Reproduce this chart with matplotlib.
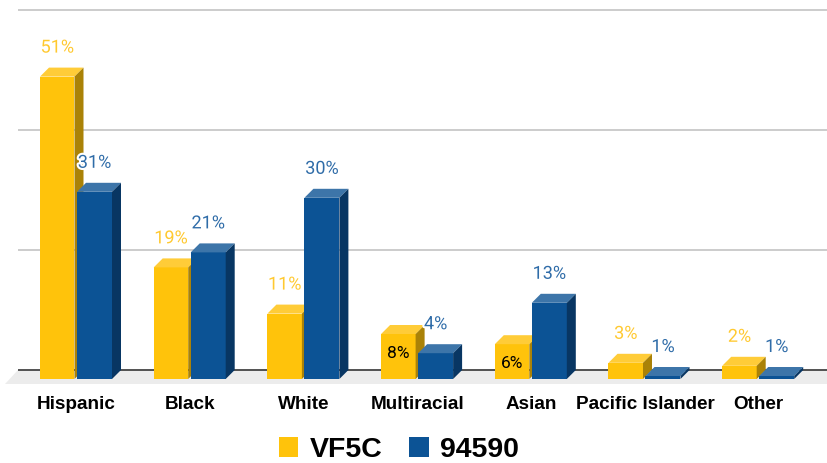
import matplotlib
matplotlib.use('Agg')
import matplotlib.pyplot as plt
import matplotlib.patheffects as pe
from matplotlib.patches import Polygon, Patch

# values (bar heights in percent)
categories = ['Hispanic', 'Black', 'White', 'Multiracial', 'Asian', 'Pacific Islander', 'Other']
vf5c = [50.4, 18.6, 10.9, 7.5, 5.8, 2.7, 2.2]
zip_94590 = [31.2, 21.1, 30.2, 4.3, 12.7, 0.5, 0.5]
vf5c_labels = ['51%', '19%', '11%', '8%', '6%', '3%', '2%']
zip_labels = ['31%', '21%', '30%', '4%', '13%', '1%', '1%']
grid_values = [20, 40, 60]

YELLOW = ('#FFC30B', '#FFCC38', '#AA8207')
BLUE = ('#0C5395', '#3D75A9', '#083663')

W, H = 828, 463
PX_X = 113.7  # pixels per category
PX_Y = 6.0    # pixels per percent
X0, Y0 = 76, 379  # pixel position of category 0 and of value 0

fig = plt.figure(figsize=(W / 100, H / 100), dpi=100)
ax = fig.add_axes([0, 0, 1, 1])
ax.set_xlim(-X0 / PX_X, (W - X0) / PX_X)
ax.set_ylim((Y0 - H) / PX_Y, Y0 / PX_Y)
ax.axis('off')

# depth of the fake 3d look, in data units
dx = 9 / PX_X
dy = 9 / PX_Y
w1 = 34.5 / PX_X
w2 = 35 / PX_X
xmin = (18 - X0) / PX_X
xmax = (W - X0) / PX_X

# floor and grid sit at the back of the bars
ax.add_patch(Polygon([(xmin, dy), (xmax, dy), (xmax, -5 / PX_Y), ((5 - X0) / PX_X, -5 / PX_Y)],
                     facecolor='#ECECEC', edgecolor='none', zorder=1))
for g in grid_values:
    ax.plot([xmin, xmax], [g + dy * 0.95] * 2, color='#CCCCCC', lw=1.4, zorder=1, solid_capstyle='butt')
ax.plot([xmin, xmax], [dy * 0.95] * 2, color='#444444', lw=1.3, zorder=2, solid_capstyle='butt')


def draw_bar(x, v, w, colors, z):
    front, top, side = colors
    ax.add_patch(Polygon([(x, 0), (x + w, 0), (x + w, v), (x, v)], facecolor=front, edgecolor='none', zorder=z))
    ax.add_patch(Polygon([(x, v), (x + w, v), (x + w + dx, v + dy), (x + dx, v + dy)],
                         facecolor=top, edgecolor='none', zorder=z))
    ax.add_patch(Polygon([(x + w, 0), (x + w + dx, dy), (x + w + dx, v + dy), (x + w, v)],
                         facecolor=side, edgecolor='none', zorder=z))


halo = [pe.withStroke(linewidth=3, foreground='white')]
for i, name in enumerate(categories):
    x1 = i - 36 / PX_X
    x2 = i + 1 / PX_X
    draw_bar(x1, vf5c[i], w1, YELLOW, 3)
    draw_bar(x2, zip_94590[i], w2, BLUE, 4)

    # the two small yellow bars with room keep the label inside
    if name in ('Multiracial', 'Asian'):
        ax.text(x1 + w1 / 2, vf5c[i] - 19 / PX_Y, vf5c_labels[i], ha='center', va='center',
                fontsize=12.5, family='Roboto', color='black', zorder=6)
    else:
        ax.text(x1 + w1 / 2, vf5c[i] + 29 / PX_Y, vf5c_labels[i], ha='center', va='center',
                fontsize=13, family='Roboto', color='#FFC930', zorder=6, path_effects=halo)
    ax.text(x2 + w2 / 2, zip_94590[i] + 29 / PX_Y, zip_labels[i], ha='center', va='center',
            fontsize=13, family='Roboto', color='#2F6CA8', zorder=6, path_effects=halo)

    ax.text(i + 0.5 / PX_X, -25.5 / PX_Y, name, ha='center', va='center', fontsize=13.6,
            family='Liberation Sans', fontweight='bold', color='black')

handles = [Patch(facecolor=YELLOW[0], label='VF5C'), Patch(facecolor=BLUE[0], label='94590')]
ax.legend(handles=handles, ncol=2, loc='center', bbox_to_anchor=(399 / W, 1 - 450 / H), frameon=False,
          prop={'family': 'Liberation Sans', 'weight': 'bold', 'size': 20.5},
          handlelength=0.68, handleheight=0.68, handletextpad=0.4, columnspacing=0.95, borderaxespad=0, borderpad=0)

plt.savefig('out.png', dpi=100)
